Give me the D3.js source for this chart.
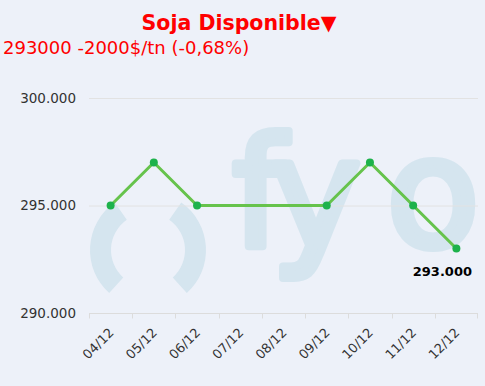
<!DOCTYPE html>
<html>
<head>
<meta charset="utf-8">
<script src="https://cdn.jsdelivr.net/npm/d3@7"></script>
<style>
  html, body { margin: 0; padding: 0; background: #edf1f9; }
  svg { display: block; font-family: "DejaVu Sans", Verdana, sans-serif; }
  .grid line { stroke: #e2e2e2; }
  .axis path.domain { display: none; }
  .axis text { fill: #333; }
  .x.axis line, .x.axis path { stroke: #dcdcdc; }
</style>
</head>
<body>
<svg id="chart" width="485" height="386"></svg>
<script>
const days = ['04/12', '05/12', '06/12', '07/12', '08/12', '09/12', '10/12', '11/12', '12/12'];
// no quote on 07/12 and 08/12
const prices = [295000, 297000, 295000, null, null, 295000, 297000, 295000, 293000];
const yTicks = [290000, 295000, 300000];

const title = 'Soja Disponible\u25BC';
const subtitle = '293000 -2000$/tn (-0,68%)';

const width = 485, height = 386;
const margin = { top: 98, right: 7, bottom: 73, left: 89 };

const svg = d3.select('#chart');

function translation(x, y) {
  return 'translate(' + x + ',' + y + ')';
}

const x = d3.scaleBand()
  .domain(days)
  .range([margin.left, width - margin.right])
  .padding(0);

const y = d3.scaleLinear()
  .domain([290000, 300000])
  .range([height - margin.bottom, margin.top]);

const fmt = d => d3.format(',')(d).replace(/,/g, '.');

// watermark logo
const wm = svg.append('g').attr('fill', '#d5e5ef').attr('stroke', '#d5e5ef');
const ring = d3.arc().innerRadius(37).outerRadius(58);
const deg = Math.PI / 180;
wm.append('path')
  .attr('transform', translation(148, 250))
  .attr('stroke', 'none')
  .attr('d', ring({ startAngle: 222 * deg, endAngle: 325 * deg }));
wm.append('path')
  .attr('transform', translation(148, 250))
  .attr('stroke', 'none')
  .attr('d', ring({ startAngle: 35 * deg, endAngle: 138 * deg }));
[['f', 259], ['y', 316], ['o', 433]].forEach(([ch, cx]) => {
  wm.append('text')
    .attr('x', cx)
    .attr('y', 246)
    .attr('text-anchor', 'middle')
    .attr('font-size', 152)
    .attr('stroke-width', 8)
    .attr('stroke-linejoin', 'round')
    .text(ch);
});

// grid
svg.append('g')
  .attr('class', 'grid')
  .selectAll('line')
  .data(yTicks.slice(1))
  .enter().append('line')
  .attr('x1', margin.left)
  .attr('x2', width - margin.right)
  .attr('y1', d => y(d) + 0.5)
  .attr('y2', d => y(d) + 0.5);

// y axis labels
svg.append('g')
  .attr('class', 'axis y')
  .attr('transform', translation(76, 0))
  .call(d3.axisLeft(y).tickValues(yTicks).tickSize(0).tickPadding(0).tickFormat(fmt))
  .selectAll('text')
  .attr('font-size', 13.5)
  .attr('font-family', '"DejaVu Sans", Verdana, sans-serif');

// x axis with boundary ticks
const xAxis = svg.append('g')
  .attr('class', 'x axis')
  .attr('transform', translation(0, y(290000) + 0.5));
xAxis.append('line')
  .attr('x1', margin.left).attr('x2', width - margin.right);
xAxis.selectAll('line.tick')
  .data(days.concat(['end']))
  .enter().append('line')
  .attr('class', 'tick')
  .attr('x1', (d, i) => i < days.length ? Math.round(x(d)) + 0.5 : width - margin.right - 0.5)
  .attr('x2', (d, i) => i < days.length ? Math.round(x(d)) + 0.5 : width - margin.right - 0.5)
  .attr('y1', 0).attr('y2', 5);
xAxis.selectAll('text')
  .data(days)
  .enter().append('text')
  .attr('transform', d => translation(x(d) + x.bandwidth() / 2 + 4, 20) + ' rotate(-45)')
  .attr('text-anchor', 'end')
  .attr('font-size', 13)
  .attr('fill', '#333')
  .text(d => d);

// line
const pts = days.map((d, i) => ({ day: d, v: prices[i] })).filter(p => p.v !== null);
const line = d3.line()
  .x(p => x(p.day) + x.bandwidth() / 2)
  .y(p => y(p.v));

svg.append('path')
  .datum(pts)
  .attr('d', line)
  .attr('fill', 'none')
  .attr('stroke', '#66c34c')
  .attr('stroke-width', 3)
  .attr('stroke-linejoin', 'round');

svg.append('g')
  .selectAll('circle')
  .data(pts)
  .enter().append('circle')
  .attr('cx', p => x(p.day) + x.bandwidth() / 2)
  .attr('cy', p => y(p.v))
  .attr('r', 4)
  .attr('fill', '#1db24b');

// last value label
const last = pts[pts.length - 1];
svg.append('text')
  .attr('x', x(last.day) + x.bandwidth() / 2 - 14)
  .attr('y', y(last.v) + 27)
  .attr('text-anchor', 'middle')
  .attr('font-size', 13)
  .attr('font-weight', 'bold')
  .attr('fill', '#000')
  .text(fmt(last.v));

// title
svg.append('text')
  .attr('x', 239)
  .attr('y', 30)
  .attr('text-anchor', 'middle')
  .attr('font-size', 20.5)
  .attr('font-weight', 'bold')
  .attr('fill', '#ff0000')
  .text(title);

svg.append('text')
  .attr('x', 3)
  .attr('y', 54)
  .attr('font-size', 18)
  .attr('fill', '#ff0000')
  .text(subtitle);
</script>
</body>
</html>
